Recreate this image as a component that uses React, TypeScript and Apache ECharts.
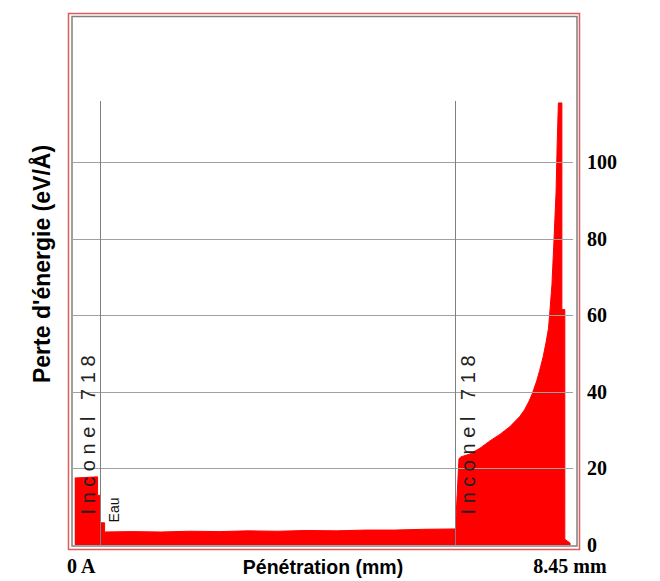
import React, { useEffect, useRef } from "react";
import * as echarts from "echarts";

// Penetration depth (mm) and energy loss (eV/Å)
const depthMm: number[] = [
  0.03, 0.42, 0.42, 0.47, 0.47, 0.54, 0.54, 1.0, 1.5, 2.0, 2.5, 3.0, 3.5, 4.0, 4.5, 5.0, 5.5, 6.0, 6.54,
  6.6, 6.63, 6.79, 6.96, 7.13, 7.3, 7.47, 7.64, 7.72, 7.8, 7.86, 7.93, 7.98, 8.04, 8.09, 8.13, 8.15, 8.19,
  8.22, 8.26, 8.28, 8.3, 8.36, 8.36, 8.41, 8.41, 8.5, 8.5,
];
const energyLoss: number[] = [
  17.5, 17.8, 13, 13, 5.8, 5.8, 3.4, 3.5, 3.4, 3.6, 3.5, 3.7, 3.6, 3.8, 3.7, 3.9, 3.9, 4.1, 4.2,
  22.5, 23.0, 23.8, 25.3, 27.2, 28.9, 30.9, 33.6, 35.3, 37.6, 39.8, 42.9, 45.6, 49.2, 53, 56.5, 60, 68,
  78, 92, 105, 115.5, 115.5, 61.5, 61.5, 1.5, 0.5, 0,
];
const layerBoundaries: number[] = [0.47, 6.54];
const yTicks: number[] = [0, 20, 40, 60, 80, 100];
const xEndLabels: string[] = ["0 A", "8.45 mm"];
const layerLabel = "I n c o n e l   7 1 8";
const waterLabel = "Eau";
const xTitle = "Pénétration (mm)";
const yTitle = "Perte d'énergie (eV/Å)";

export default function App() {
  const ref = useRef<HTMLDivElement>(null);
  useEffect(() => {
    if (!ref.current) return;
    const chart = echarts.init(ref.current, undefined, { renderer: "svg" });
    const data = depthMm.map((x, i) => [x, energyLoss[i]]);
    const sans = "'Liberation Sans', Arial, sans-serif";
    const serif = "'Liberation Serif', 'Times New Roman', serif";
    chart.setOption({
      animation: false,
      backgroundColor: "#ffffff",
      grid: { left: 73, right: 87, top: 101, bottom: 36, containLabel: false },
      xAxis: {
        type: "value",
        min: 0,
        max: 8.55,
        show: false,
      },
      yAxis: {
        type: "value",
        position: "right",
        min: 0,
        max: 116,
        interval: 20,
        z: 5,
        axisLine: { show: false },
        axisTick: { show: false },
        axisLabel: {
          showMaxLabel: false,
          margin: 14,
          color: "#000",
          fontFamily: serif,
          fontWeight: "bold",
          fontSize: 20,
          lineHeight: 16,
          padding: [0, 0, 4, 0],
          formatter: (v: number) => (yTicks.includes(v) ? String(v) : ""),
        },
        splitLine: {
          show: true,
          showMaxLine: false,
          lineStyle: { color: "#a0a0a0", width: 1 },
        },
      },
      series: [
        {
          type: "line",
          data,
          symbol: "none",
          lineStyle: { color: "#ff0000", width: 1 },
          areaStyle: { color: "#ff0000", opacity: 1 },
          markLine: {
            silent: true,
            symbol: "none",
            label: { show: false },
            lineStyle: { color: "#808080", width: 1, type: "solid" },
            data: layerBoundaries.map((b) => ({ xAxis: b })),
          },
        },
      ],
      graphic: [
        {
          type: "rect",
          shape: { x: 68.5, y: 13.5, width: 511, height: 536 },
          style: { fill: "none", stroke: "#e35a5a", lineWidth: 1.5 },
          silent: true,
        },
        {
          type: "rect",
          shape: { x: 72, y: 16.5, width: 505, height: 529.5 },
          style: { fill: "none", stroke: "#808080", lineWidth: 1.5 },
          silent: true,
        },
        {
          type: "text",
          x: 42,
          y: 264,
          rotation: Math.PI / 2,
          style: {
            text: yTitle,
            fontFamily: sans,
            fontWeight: "bold",
            fontSize: 23,
            fill: "#000",
            textAlign: "center",
            textVerticalAlign: "middle",
          },
        },
        {
          type: "text",
          x: 323,
          y: 567,
          style: {
            text: xTitle,
            fontFamily: sans,
            fontWeight: "bold",
            fontSize: 19.5,
            fill: "#000",
            textAlign: "center",
            textVerticalAlign: "middle",
          },
        },
        {
          type: "text",
          x: 67,
          y: 566,
          style: {
            text: xEndLabels[0],
            fontFamily: serif,
            fontWeight: "bold",
            fontSize: 20,
            fill: "#000",
            textAlign: "left",
            textVerticalAlign: "middle",
          },
        },
        {
          type: "text",
          x: 570,
          y: 566,
          style: {
            text: xEndLabels[1],
            fontFamily: serif,
            fontWeight: "bold",
            fontSize: 20,
            fill: "#000",
            textAlign: "center",
            textVerticalAlign: "middle",
          },
        },
        {
          type: "text",
          x: 88,
          y: 435,
          rotation: Math.PI / 2,
          z: 10,
          style: {
            text: layerLabel,
            fontFamily: sans,
            fontSize: 20,
            fill: "#222",
            textAlign: "center",
            textVerticalAlign: "middle",
          },
        },
        {
          type: "text",
          x: 468,
          y: 435,
          rotation: Math.PI / 2,
          z: 10,
          style: {
            text: layerLabel,
            fontFamily: sans,
            fontSize: 20,
            fill: "#222",
            textAlign: "center",
            textVerticalAlign: "middle",
          },
        },
        {
          type: "text",
          x: 114,
          y: 510,
          rotation: Math.PI / 2,
          z: 10,
          style: {
            text: waterLabel,
            fontFamily: sans,
            fontSize: 14,
            fill: "#111",
            textAlign: "center",
            textVerticalAlign: "middle",
          },
        },
      ],
    });
    return () => chart.dispose();
  }, []);
  return (
    <div
      ref={ref}
      style={{ position: "fixed", left: 0, top: 0, width: 660, height: 581 }}
    />
  );
}
